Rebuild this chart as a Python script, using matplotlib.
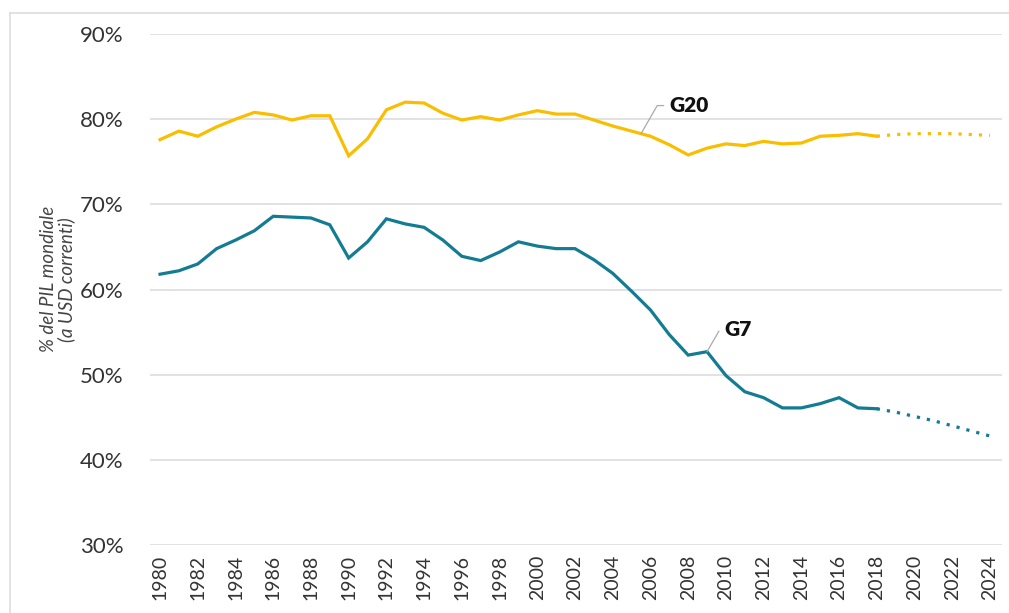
import matplotlib
matplotlib.use("Agg")
import matplotlib.pyplot as plt
from matplotlib.lines import Line2D

plt.rcParams["font.family"] = ["Lato", "DejaVu Sans"]

# dati storici 1980-2018
years = list(range(1980, 2019))
g20 = [77.6, 78.6, 78.0, 79.1, 80.0, 80.8, 80.5, 79.9, 80.4, 80.4,
       75.7, 77.7, 81.1, 82.0, 81.9, 80.7, 79.9, 80.3, 79.9, 80.5,
       81.0, 80.6, 80.6, 79.9, 79.2, 78.6, 78.0, 77.0, 75.8, 76.6,
       77.1, 76.9, 77.4, 77.1, 77.2, 78.0, 78.1, 78.3, 78.0]
g7 = [61.8, 62.2, 63.0, 64.8, 65.8, 66.9, 68.6, 68.5, 68.4, 67.6,
      63.7, 65.6, 68.3, 67.7, 67.3, 65.8, 63.9, 63.4, 64.4, 65.6,
      65.1, 64.8, 64.8, 63.5, 61.9, 59.8, 57.6, 54.7, 52.3, 52.7,
      49.9, 48.0, 47.3, 46.1, 46.1, 46.6, 47.3, 46.1, 46.0]

# proiezioni 2018-2024
proj_years = [2018, 2019, 2020, 2021, 2022, 2023, 2024]
g20_proj = [78.0, 78.2, 78.3, 78.3, 78.3, 78.2, 78.1]
g7_proj = [46.0, 45.6, 45.1, 44.6, 44.0, 43.4, 42.8]

yellow = "#F9BE00"
teal = "#137B92"

fig = plt.figure(figsize=(10.09, 6.13), dpi=100)
ax = fig.add_axes([0.1487, 0.1109, 0.8444, 0.8336])

ax.plot(years, g20, color=yellow, lw=2.3, solid_joinstyle="miter", clip_on=False)
ax.plot(years, g7, color=teal, lw=2.3, solid_joinstyle="miter", clip_on=False)
ax.plot(proj_years, g20_proj, color=yellow, lw=2.3, ls=(0, (1, 2.2)), clip_on=False)
ax.plot(proj_years, g7_proj, color=teal, lw=2.3, ls=(0, (1, 2.2)), clip_on=False)

ax.set_xlim(1979.47, 2024.64)
ax.set_ylim(30, 90)
ax.set_yticks(range(30, 91, 10))
ax.set_yticklabels([f"{v}%" for v in range(30, 91, 10)])
ax.set_xticks(range(1980, 2025, 2))
ax.set_xticklabels([str(y) for y in range(1980, 2025, 2)], rotation=90)
ax.tick_params(axis="y", length=0, pad=19, labelsize=16, labelcolor="#333333")
ax.tick_params(axis="x", length=0, pad=7, labelsize=14, labelcolor="#333333")
ax.grid(axis="y", color="#DDDDDD", lw=1.2)
ax.set_axisbelow(True)
for s in ax.spines.values():
    s.set_visible(False)

ax.set_ylabel("% del PIL mondiale\n(a USD correnti)", style="italic",
              fontsize=13.5, color="#444444", linespacing=1.0)
ax.yaxis.set_label_coords(-0.088, 0.52)

# etichette con linee guida
ax.annotate("G20", xy=(2005.5, 78.3), xytext=(2007.0, 81.6),
            fontsize=15, fontweight="heavy", color="#111111", va="center",
            arrowprops=dict(arrowstyle="-", color="#AAAAAA", lw=0.9,
                            connectionstyle="angle,angleA=0,angleB=60,rad=0",
                            shrinkA=2, shrinkB=0))
ax.annotate("G7", xy=(2009.0, 52.7), xytext=(2009.9, 55.3),
            fontsize=15, fontweight="heavy", color="#111111", va="center",
            arrowprops=dict(arrowstyle="-", color="#AAAAAA", lw=0.9,
                            connectionstyle="angle,angleA=0,angleB=60,rad=0",
                            shrinkA=2, shrinkB=0))

# cornice grigia
fig.add_artist(Line2D([10 / 1009, 10 / 1009], [0, 1 - 13 / 613], color="#DDDDDD", lw=1.2))
fig.add_artist(Line2D([10 / 1009, 1], [1 - 13 / 613, 1 - 13 / 613], color="#DDDDDD", lw=1.2))

fig.savefig("out.png", dpi=100)
